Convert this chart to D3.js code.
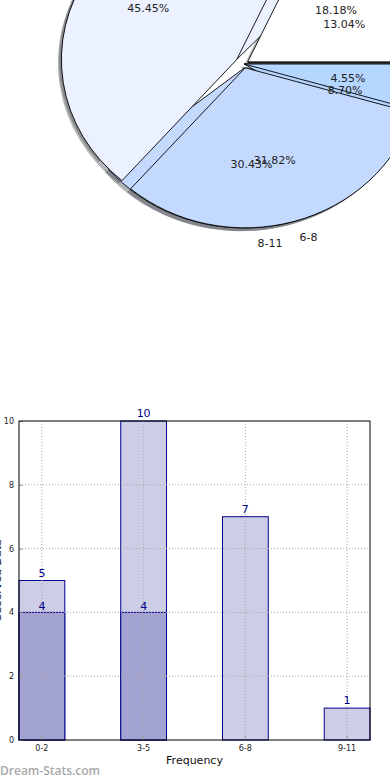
<!DOCTYPE html>
<html>
<head>
<meta charset="utf-8">
<script src="https://cdn.jsdelivr.net/npm/d3@7"></script>
<style>
  body { margin: 0; background: #fff; }
  text { font-family: "DejaVu Sans", sans-serif; }
</style>
</head>
<body>
<div id="chart"></div>
<script>
// Pie data (two overlaid pies)
const pieLabelsA = ["0-2", "3-5", "6-8", "9-11"];
const pieValuesA = [4, 10, 7, 1];
const pieLabelsB = ["0-3", "4-7", "8-11", "12-15"];
const pieValuesB = [3, 11, 7, 2];

// Bar data
const barCategories = ["0-2", "3-5", "6-8", "9-11"];
const barExpected = [5, 10, 7, 1];
const barObserved = [4, 4, 0, 0];
const yTicks = [0, 2, 4, 6, 8, 10];

const w = 390;
const h = 780;

const svg = d3.select("#chart")
  .append("svg")
  .attr("width", w)
  .attr("height", h);

/************************************
 * Pie charts
 ************************************/
const pieColors = ["#ffffff", "#ebf1fe", "#c4d9fe", "#b4d6ff"];
const explodeA = [0.025, 0.05, 0.025, 0];
const explodeB = [0.025, 0.05, 0.025, 0];
const cx = 244, cy = 64, rx = 175, ry = 160;

const pieGen = d3.pie()
  .sort(null)
  .startAngle(Math.PI / 2)
  .endAngle(Math.PI / 2 - 2 * Math.PI);
const arc = d3.arc().innerRadius(0).outerRadius(1);

const layout = (values, labels, explode) => {
  const total = d3.sum(values);
  return pieGen(values).map((a, i) => {
    const m = (a.startAngle + a.endAngle) / 2;
    const ux = Math.sin(m), uy = -Math.cos(m);
    return Object.assign({}, a, {
      label: labels[i],
      pct: (values[i] / total * 100).toFixed(2) + "%",
      color: pieColors[i],
      ux: ux, uy: uy,
      ox: cx + explode[i] * rx * ux,
      oy: cy + explode[i] * ry * uy
    });
  });
};

const slicesA = layout(pieValuesA, pieLabelsA, explodeA);
const slicesB = layout(pieValuesB, pieLabelsB, explodeB);
const allSlices = slicesA.concat(slicesB);

const pieG = svg.append("g");

// shadows below every wedge
pieG.selectAll("path.shadow")
  .data(allSlices)
  .enter()
  .append("path")
  .attr("class", "shadow")
  .attr("transform", d => "translate(" + (d.ox - 0.02 * rx) + "," + (d.oy + 0.02 * ry) + ") scale(" + rx + "," + ry + ")")
  .attr("d", arc)
  .style("fill", d => {
    const c = d3.rgb(d.color);
    return d3.rgb(c.r * 0.3, c.g * 0.3, c.b * 0.3);
  })
  .style("opacity", 0.4);

// wedges: B underneath, A on top
[slicesB, slicesA].forEach(slices => {
  pieG.append("g")
    .selectAll("path")
    .data(slices)
    .enter()
    .append("path")
    .attr("transform", d => "translate(" + d.ox + "," + d.oy + ") scale(" + rx + "," + ry + ")")
    .attr("d", arc)
    .attr("vector-effect", "non-scaling-stroke")
    .style("fill", d => d.color)
    .style("stroke", "#000")
    .style("stroke-width", 0.9);
});

// outer labels and percentages
[slicesA, slicesB].forEach(slices => {
  pieG.append("g")
    .selectAll("text.lbl")
    .data(slices)
    .enter()
    .append("text")
    .attr("x", d => d.ox + 1.1 * rx * d.ux)
    .attr("y", d => d.oy + 1.1 * ry * d.uy)
    .attr("dy", "0.35em")
    .attr("text-anchor", d => d.ux > 0 ? "start" : "end")
    .style("font-size", "11px")
    .style("fill", "#222")
    .text(d => d.label);

  pieG.append("g")
    .selectAll("text.pct")
    .data(slices)
    .enter()
    .append("text")
    .attr("x", d => d.ox + 0.6 * rx * d.ux)
    .attr("y", d => d.oy + 0.6 * ry * d.uy)
    .attr("dy", "0.35em")
    .attr("text-anchor", "middle")
    .style("font-size", "11px")
    .style("fill", "#222")
    .text(d => d.pct);
});

/************************************
 * Bar chart
 ************************************/
const plotLeft = 19, plotRight = 370, plotTop = 421, plotBottom = 740;

const xScale = d3.scaleBand()
  .domain(barCategories)
  .range([plotLeft, plotRight])
  .paddingInner(0.55)
  .paddingOuter(0);

const yScale = d3.scaleLinear()
  .domain([0, 10])
  .range([plotBottom, plotTop]);

const barG = svg.append("g");

// expected (light) bars
barG.selectAll("rect.exp")
  .data(barExpected)
  .enter()
  .append("rect")
  .attr("x", (d, i) => xScale(barCategories[i]))
  .attr("y", d => yScale(d))
  .attr("width", xScale.bandwidth())
  .attr("height", d => plotBottom - yScale(d))
  .style("fill", "#cdcde6")
  .style("stroke", "#00008b")
  .style("stroke-width", 1);

// observed (dark) bars
const observedShown = barObserved
  .map((v, i) => ({ v: v, c: barCategories[i] }))
  .filter(d => d.v > 0);

barG.selectAll("rect.obs")
  .data(observedShown)
  .enter()
  .append("rect")
  .attr("x", d => xScale(d.c))
  .attr("y", d => yScale(d.v))
  .attr("width", xScale.bandwidth())
  .attr("height", d => plotBottom - yScale(d.v))
  .style("fill", "#a3a3d1")
  .style("stroke", "#00008b")
  .style("stroke-width", 1);

// grid on top of bars
const gridG = svg.append("g")
  .style("stroke", "#a8a8a8")
  .style("stroke-width", 1)
  .style("stroke-dasharray", "1,2");

gridG.selectAll("line.vg")
  .data(barCategories)
  .enter()
  .append("line")
  .attr("x1", d => xScale(d) + xScale.bandwidth() / 2)
  .attr("x2", d => xScale(d) + xScale.bandwidth() / 2)
  .attr("y1", plotTop)
  .attr("y2", plotBottom);

gridG.selectAll("line.hg")
  .data(yTicks.slice(1, -1))
  .enter()
  .append("line")
  .attr("x1", plotLeft)
  .attr("x2", plotRight)
  .attr("y1", d => yScale(d))
  .attr("y2", d => yScale(d));

// value labels
svg.selectAll("text.vexp")
  .data(barExpected)
  .enter()
  .append("text")
  .attr("x", (d, i) => xScale(barCategories[i]) + xScale.bandwidth() / 2)
  .attr("y", d => yScale(d) - 4)
  .attr("text-anchor", "middle")
  .style("font-size", "11px")
  .style("fill", "#00008b")
  .text(d => d);

svg.selectAll("text.vobs")
  .data(observedShown)
  .enter()
  .append("text")
  .attr("x", d => xScale(d.c) + xScale.bandwidth() / 2)
  .attr("y", d => yScale(d.v) - 2)
  .attr("text-anchor", "middle")
  .style("font-size", "11px")
  .style("fill", "#00008b")
  .text(d => d.v);

// axes
const yAxis = d3.axisLeft(yScale)
  .tickValues(yTicks)
  .tickSizeInner(-4)
  .tickSizeOuter(0)
  .tickPadding(5);

const xAxis = d3.axisBottom(xScale)
  .tickSizeInner(-4)
  .tickSizeOuter(0)
  .tickPadding(5);

const yAxisG = svg.append("g")
  .attr("transform", "translate(" + plotLeft + ",0)")
  .call(yAxis);

const xAxisG = svg.append("g")
  .attr("transform", "translate(0," + plotBottom + ")")
  .call(xAxis);

[yAxisG, xAxisG].forEach(g => {
  g.select(".domain").remove();
  g.selectAll(".tick line").style("stroke", "#999");
  g.selectAll("text")
    .style("font-size", "8px")
    .style("font-family", "DejaVu Sans, sans-serif")
    .style("fill", "#222");
});

// frame
svg.append("rect")
  .attr("x", plotLeft)
  .attr("y", plotTop)
  .attr("width", plotRight - plotLeft)
  .attr("height", plotBottom - plotTop)
  .style("fill", "none")
  .style("stroke", "#000")
  .style("stroke-width", 1);

// axis labels
svg.append("text")
  .attr("x", (plotLeft + plotRight) / 2)
  .attr("y", 764)
  .attr("text-anchor", "middle")
  .style("font-size", "11px")
  .style("fill", "#111")
  .text("Frequency");

svg.append("text")
  .attr("transform", "translate(1," + ((plotTop + plotBottom) / 2) + ") rotate(-90)")
  .attr("text-anchor", "middle")
  .style("font-size", "11px")
  .style("fill", "#111")
  .text("Observed Data");

// watermark
svg.append("text")
  .attr("x", 0)
  .attr("y", 775)
  .style("font-family", "'Open Sans', sans-serif")
  .style("font-weight", "600")
  .style("font-size", "12px")
  .style("fill", "#a8a8a8")
  .text("Dream-Stats.com");
</script>
</body>
</html>
